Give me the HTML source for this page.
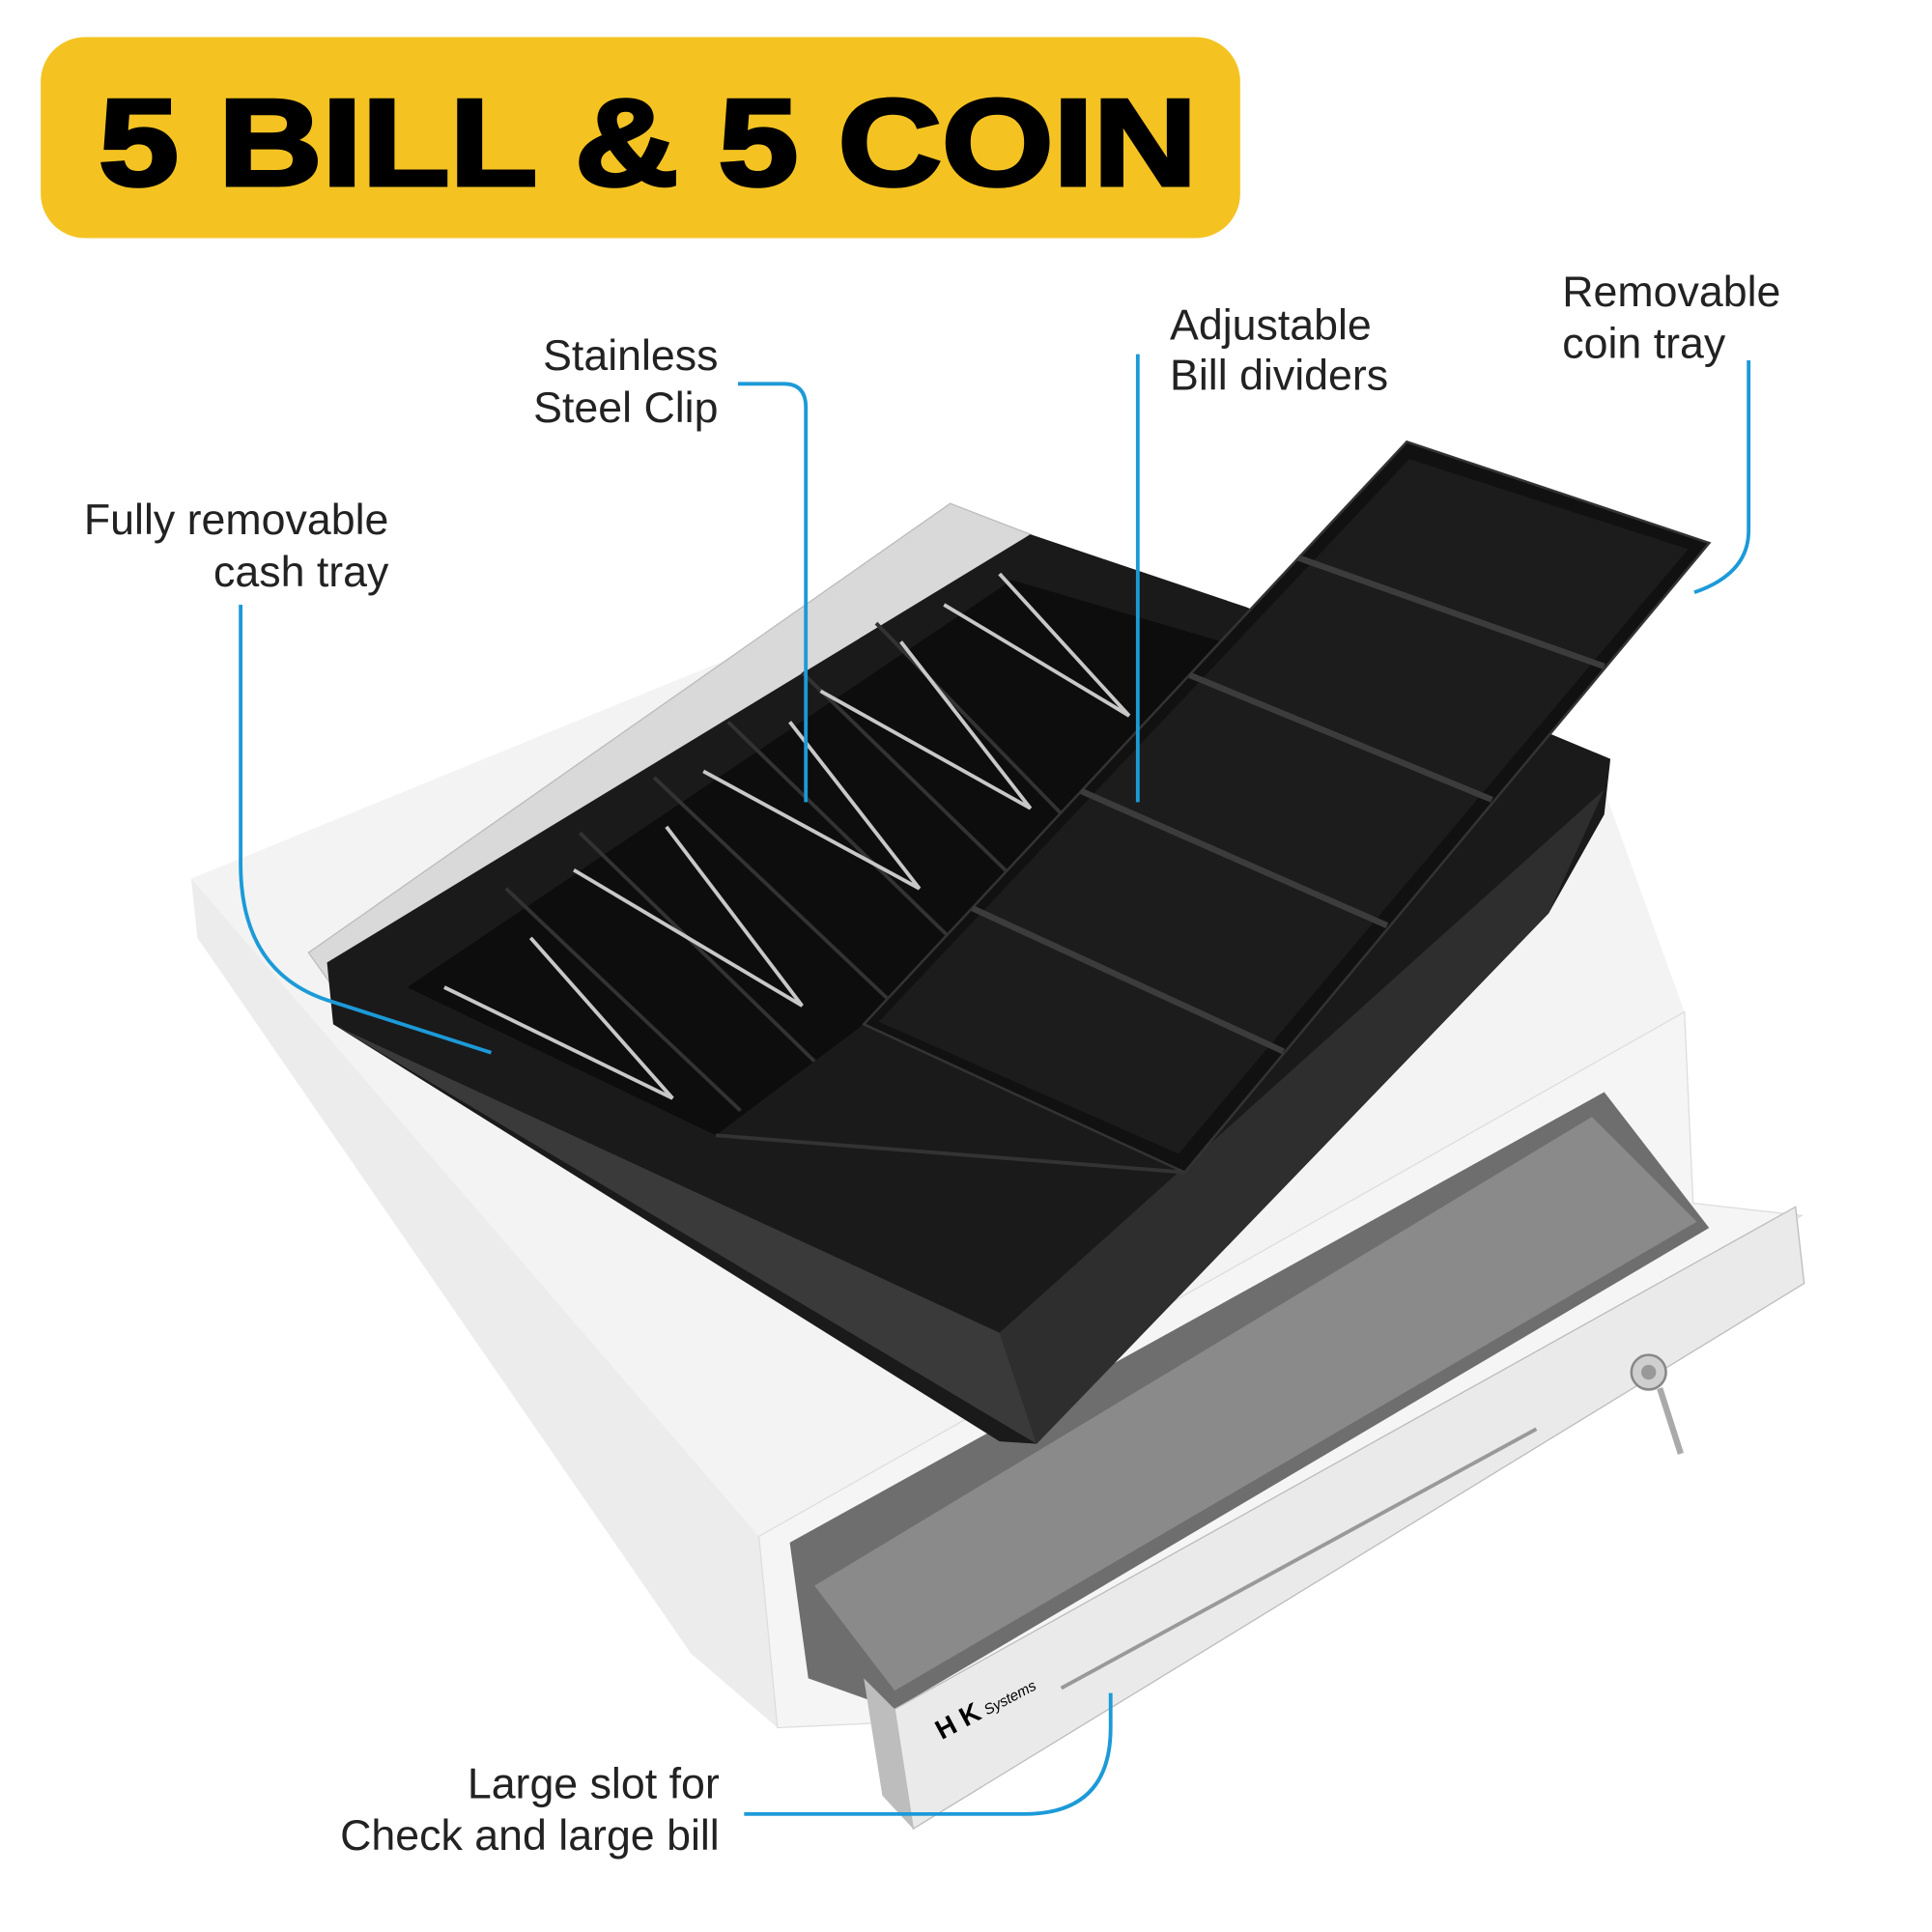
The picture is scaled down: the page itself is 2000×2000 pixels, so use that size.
<!DOCTYPE html>
<html><head><meta charset="utf-8"><style>
html,body{margin:0;padding:0;background:#fff;}
svg{display:block;}
text{font-family:"Liberation Sans",sans-serif;}
</style></head><body>
<svg width="2000" height="2000" viewBox="0 0 1565.6 1565.6" xmlns="http://www.w3.org/2000/svg">
<rect width="1565.6" height="1565.6" fill="#fff"/>
<!-- title -->
<rect x="33" y="30" width="972" height="163" rx="36" fill="#f4c322"/>
<text x="80" y="150" font-size="100" font-weight="bold" textLength="890" lengthAdjust="spacingAndGlyphs" fill="#000" stroke="#000" stroke-width="3">5 BILL &amp; 5 COIN</text>

<!-- white body -->
<polygon points="155,712 600,530 1300,640 1365,820 615,1245 630,1400 560,1340 160,760" fill="#f3f3f3"/>
<polygon points="155,712 160,760 560,1340 630,1400 615,1245" fill="#ececec"/>
<polygon points="615,1245 1365,820 1372,975 1460,985 740,1395 630,1400" fill="#f5f5f5" stroke="#ddd" stroke-width="1"/>
<!-- drawer opening / interior -->
<polygon points="640,1250 1300,885 1385,995 725,1385 655,1360" fill="#6e6e6e"/>
<polygon points="660,1285 1290,905 1375,990 725,1370" fill="#8a8a8a"/>
<!-- drawer front -->
<polygon points="725,1385 1455,978 1462,1040 740,1482" fill="#eaeaea" stroke="#bbb" stroke-width="1"/>
<polygon points="700,1360 725,1385 740,1482 715,1455" fill="#bdbdbd"/>
<line x1="860" y1="1368" x2="1245" y2="1158" stroke="#999" stroke-width="3"/>
<circle cx="1336" cy="1112" r="14" fill="#cfcfcf" stroke="#888" stroke-width="2"/>
<circle cx="1336" cy="1112" r="6" fill="#999"/>
<line x1="1345" y1="1125" x2="1362" y2="1178" stroke="#aaa" stroke-width="5"/>
<text x="763" y="1410" font-size="22" font-weight="bold" transform="rotate(-28 763 1410)">H K</text>
<text x="800" y="1390" font-size="12" font-style="italic" transform="rotate(-28 800 1390)">Systems</text>

<!-- silver plate -->
<polygon points="250,772 770,408 835,433 800,460 320,810 270,800" fill="#d9d9d9" stroke="#bbb" stroke-width="1"/>
<!-- cash tray -->
<polygon points="265,780 835,433 1010,492 1305,615 1300,660 1255,740 840,1170 810,1168 270,830" fill="#1a1a1a"/>
<polygon points="330,800 820,470 990,520 700,830 580,920" fill="#0d0d0d"/>
<polygon points="280,835 810,1080 840,1170 270,830" fill="#3a3a3a"/>
<polygon points="810,1080 1300,640 1255,740 840,1170" fill="#2e2e2e"/>
<g stroke="#333" stroke-width="3">
<line x1="410" y1="720" x2="600" y2="900"/><line x1="470" y1="675" x2="660" y2="860"/>
<line x1="530" y1="630" x2="720" y2="810"/><line x1="590" y1="585" x2="780" y2="770"/>
<line x1="650" y1="545" x2="830" y2="720"/><line x1="710" y1="505" x2="880" y2="680"/>
<line x1="580" y1="920" x2="960" y2="950"/>
</g>
<!-- clips -->
<g stroke="#c8c8c8" stroke-width="3" fill="none">
<path d="M360,800 L545,890 L430,760"/><path d="M465,705 L650,815 L540,670"/>
<path d="M570,625 L745,720 L640,585"/><path d="M665,560 L835,655 L730,520"/>
<path d="M765,490 L915,580 L810,465"/>
</g>
<!-- coin tray -->
<polygon points="700,830 1140,358 1385,440 960,950" fill="#111" stroke="#333" stroke-width="2"/>
<polygon points="712,828 1142,372 1368,445 955,935" fill="#1c1c1c"/>
<g stroke="#3c3c3c" stroke-width="5">
<line x1="788" y1="736" x2="1040" y2="852"/>
<line x1="876" y1="641" x2="1124" y2="750"/>
<line x1="964" y1="547" x2="1209" y2="648"/>
<line x1="1052" y1="452" x2="1300" y2="540"/>
</g>

<!-- connectors -->
<g stroke="#1c9ad8" stroke-width="3" fill="none">
<path d="M598,311 L635,311 Q653,311 653,330 L653,650"/>
<path d="M922,287 L922,650"/>
<path d="M1417,292 L1417,430 Q1417,465 1373,480"/>
<path d="M195,490 L195,700 Q195,790 270,812 L398,853"/>
<path d="M603,1470 L830,1470 Q900,1470 900,1400 L900,1372"/>
</g>

<!-- labels -->
<g font-size="35" fill="#222">
<text x="582" y="300" text-anchor="end">Stainless</text>
<text x="582" y="342" text-anchor="end">Steel Clip</text>
<text x="948" y="275">Adjustable</text>
<text x="948" y="316">Bill dividers</text>
<text x="1266" y="248">Removable</text>
<text x="1266" y="290">coin tray</text>
<text x="315" y="433" text-anchor="end">Fully removable</text>
<text x="315" y="475" text-anchor="end">cash tray</text>
<text x="583" y="1457" text-anchor="end">Large slot for</text>
<text x="583" y="1499" text-anchor="end">Check and large bill</text>
</g>
</svg>
</body></html>
